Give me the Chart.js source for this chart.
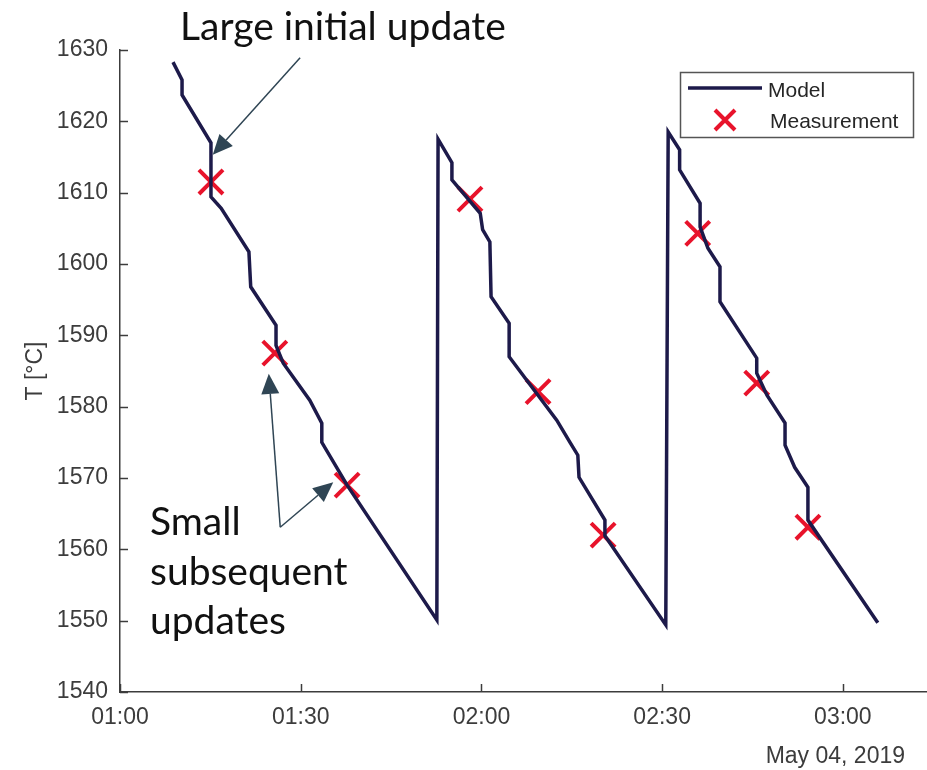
<!DOCTYPE html>
<html>
<head>
<meta charset="utf-8">
<script src="https://cdn.jsdelivr.net/npm/chart.js@4.4.1/dist/chart.umd.min.js"></script>
<style>
  html, body { margin: 0; padding: 0; background: #fff; }
  #wrap { width: 927px; height: 770px; }
</style>
</head>
<body>
<div id="wrap"><canvas id="chart" width="927" height="770"></canvas></div>
<script>
// time is minutes after 01:00 on May 04, 2019
const modelMinutes = [
  8.8, 10.3, 10.3, 15.1, 15.1, 16.8, 21.4, 21.7, 25.9, 25.9, 27.1, 31.5, 33.5, 33.5, 37.7, 52.6,
  52.8, 55.1, 55.1, 59.8, 60.2, 61.4, 61.6, 64.6, 64.6, 72.5, 74.7, 76.0, 76.2, 80.5, 80.5, 90.6,
  91.0, 92.9, 92.9, 96.3, 96.3, 97.6, 99.6, 99.6, 105.7, 105.7, 107.4, 110.4, 110.4, 112.0, 114.2, 114.2, 125.8
];
const modelTemp = [
  1628.3, 1625.8, 1623.7, 1617.0, 1609.4, 1607.8, 1601.7, 1596.8, 1591.4, 1588.6, 1586.1, 1580.9, 1577.7, 1575.0, 1569.0, 1550.1,
  1617.5, 1614.2, 1611.8, 1607.1, 1604.8, 1603.1, 1595.4, 1591.7, 1587.0, 1578.1, 1575.0, 1573.2, 1570.1, 1564.1, 1561.9, 1549.4,
  1618.5, 1616.0, 1613.2, 1608.5, 1605.2, 1602.2, 1599.6, 1594.7, 1586.8, 1584.7, 1581.6, 1577.7, 1574.6, 1571.5, 1568.7, 1564.1, 1549.7
];
const measMinutes = [15.1, 25.7, 37.7, 58.1, 69.4, 80.2, 95.9, 105.7, 114.2];
const measTemp = [1611.5, 1587.5, 1569.0, 1609.1, 1582.1, 1562.0, 1604.3, 1583.3, 1563.1];

const startHour = 1;
const dateLabel = 'May 04, 2019';

const axisColor = '#3c3c3c';
const tickFont = { family: 'Liberation Sans, Arial, sans-serif', size: 23 };
const noteFont = '39px Lato, "Open Sans", sans-serif';
const noteColor = '#2f4554';

function clock(v) {
  const h = startHour + Math.floor(v / 60);
  const m = Math.round(v % 60);
  return String(h).padStart(2, '0') + ':' + String(m).padStart(2, '0');
}

const toXY = (xs, ys) => xs.map((x, i) => ({ x: x, y: ys[i] }));

// arrows in data units: [tailMin, tailTemp, tipMin, tipTemp]
const arrows = [
  [29.9, 1628.9, 15.4, 1615.3],
  [26.6, 1563.1, 24.7, 1584.6],
  [26.6, 1563.1, 35.4, 1569.4]
];

function arrow(ctx, x0, y0, x1, y1) {
  const ang = Math.atan2(y1 - y0, x1 - x0);
  const len = 20, half = 9;
  const bx = x1 - len * Math.cos(ang), by = y1 - len * Math.sin(ang);
  ctx.beginPath();
  ctx.moveTo(x0, y0);
  ctx.lineTo(bx, by);
  ctx.stroke();
  ctx.beginPath();
  ctx.moveTo(x1, y1);
  ctx.lineTo(bx + half * Math.sin(ang), by - half * Math.cos(ang));
  ctx.lineTo(bx - half * Math.sin(ang), by + half * Math.cos(ang));
  ctx.closePath();
  ctx.fill();
}

const decor = {
  id: 'decor',
  afterDraw(chart) {
    const ctx = chart.ctx;
    const xs = chart.scales.x, ys = chart.scales.y;
    const area = chart.chartArea;
    ctx.save();

    // inward tick marks
    ctx.strokeStyle = axisColor;
    ctx.lineWidth = 1.5;
    xs.ticks.forEach(t => {
      const px = Math.round(xs.getPixelForValue(t.value)) + 0.5;
      ctx.beginPath(); ctx.moveTo(px, area.bottom); ctx.lineTo(px, area.bottom - 8); ctx.stroke();
    });
    ys.ticks.forEach(t => {
      const py = Math.round(ys.getPixelForValue(t.value)) + 0.5;
      ctx.beginPath(); ctx.moveTo(area.left, py); ctx.lineTo(area.left + 8, py); ctx.stroke();
    });

    // date under the axis
    ctx.fillStyle = axisColor;
    ctx.font = '23px Liberation Sans, Arial, sans-serif';
    ctx.textAlign = 'right';
    ctx.textBaseline = 'middle';
    ctx.fillText(dateLabel, 905, 757);

    // legend
    const model = chart.data.datasets[0], meas = chart.data.datasets[1];
    ctx.fillStyle = '#fff';
    ctx.fillRect(680, 72, 233, 65);
    ctx.strokeStyle = '#555';
    ctx.lineWidth = 1.5;
    ctx.strokeRect(680.5, 72.5, 233, 65);
    ctx.strokeStyle = model.borderColor;
    ctx.lineWidth = model.borderWidth;
    ctx.beginPath(); ctx.moveTo(688, 88); ctx.lineTo(762, 88); ctx.stroke();
    ctx.strokeStyle = meas.borderColor;
    ctx.lineWidth = meas.borderWidth;
    const r = 10;
    ctx.beginPath();
    ctx.moveTo(725 - r, 120 - r); ctx.lineTo(725 + r, 120 + r);
    ctx.moveTo(725 - r, 120 + r); ctx.lineTo(725 + r, 120 - r);
    ctx.stroke();
    ctx.fillStyle = '#262626';
    ctx.font = '21px Liberation Sans, Arial, sans-serif';
    ctx.textAlign = 'left';
    ctx.fillText(model.label, 768, 91);
    ctx.fillText(meas.label, 770, 122);

    // annotations
    ctx.fillStyle = '#111';
    ctx.font = noteFont;
    ctx.textBaseline = 'alphabetic';
    ctx.fillText('Large initial update', 180, 40);
    ctx.fillText('Small', 150, 535);
    ctx.fillText('subsequent', 150, 585);
    ctx.fillText('updates', 150, 634);

    ctx.strokeStyle = noteColor;
    ctx.fillStyle = noteColor;
    ctx.lineWidth = 1.5;
    arrows.forEach(a => {
      arrow(ctx, xs.getPixelForValue(a[0]), ys.getPixelForValue(a[1]),
                 xs.getPixelForValue(a[2]), ys.getPixelForValue(a[3]));
    });
    ctx.restore();
  }
};

new Chart(document.getElementById('chart'), {
  type: 'scatter',
  data: {
    datasets: [
      {
        label: 'Model',
        data: toXY(modelMinutes, modelTemp),
        showLine: true,
        borderColor: '#1d1a4a',
        borderWidth: 3.5,
        pointRadius: 0,
        tension: 0
      },
      {
        label: 'Measurement',
        data: toXY(measMinutes, measTemp),
        showLine: false,
        pointStyle: 'crossRot',
        pointRadius: 17,
        borderColor: '#e8132b',
        backgroundColor: '#e8132b',
        borderWidth: 4
      }
    ]
  },
  options: {
    responsive: false,
    devicePixelRatio: 1,
    animation: false,
    layout: { autoPadding: false, padding: { left: 0, top: 50, right: 1, bottom: 0 } },
    plugins: {
      legend: { display: false },
      tooltip: { enabled: false }
    },
    scales: {
      x: {
        type: 'linear',
        min: 0,
        max: 133.8,
        grid: { display: false, drawTicks: false },
        border: { display: true, color: axisColor, width: 1.5 },
        ticks: {
          stepSize: 30,
          includeBounds: false,
          maxRotation: 0,
          autoSkip: false,
          padding: 12,
          color: axisColor,
          font: tickFont,
          callback: v => clock(v)
        },
        afterFit: s => { s.height = 78; }
      },
      y: {
        min: 1540,
        max: 1630,
        grid: { display: false, drawTicks: false },
        border: { display: true, color: axisColor, width: 1.5 },
        ticks: { stepSize: 10, padding: 12, color: axisColor, font: tickFont, callback: v => String(v) },
        title: { display: true, text: 'T [°C]', color: axisColor, font: tickFont, padding: { top: 22, bottom: 0 } },
        afterFit: s => { s.width = 120; }
      }
    }
  },
  plugins: [decor]
});
</script>
</body>
</html>
